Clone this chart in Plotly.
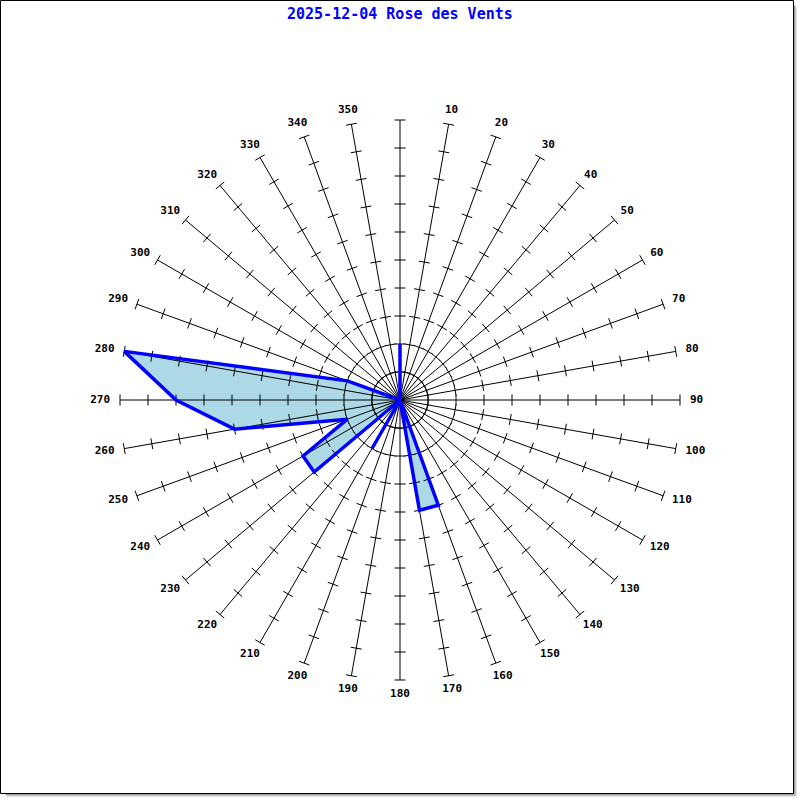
import math
import plotly.graph_objects as go

# ---------------- data ----------------
directions = [0, 10, 20, 30, 40, 50, 60, 70, 80, 90, 100, 110, 120, 130, 140, 150, 160, 170,
              180, 190, 200, 210, 220, 230, 240, 250, 260, 270, 280, 290, 300, 310, 320, 330, 340, 350]
values = [2, 0, 0, 0, 0, 0, 0, 0, 0, 0, 0, 0, 0, 0, 0, 0, 4, 4,
          0, 0, 0, 2, 0, 4, 4, 2, 6, 8, 10, 2, 0, 0, 0, 0, 0, 0]
label_dirs = [10, 20, 30, 40, 50, 60, 70, 80, 90, 100, 110, 120, 130, 140, 150, 160, 170,
              180, 190, 200, 210, 220, 230, 240, 250, 260, 270, 280, 290, 300, 310, 320, 330, 340, 350]
label_texts = ["10", "20", "30", "40", "50", "60", "70", "80", "90", "100", "110", "120", "130",
               "140", "150", "160", "170", "180", "190", "200", "210", "220", "230", "240", "250",
               "260", "270", "280", "290", "300", "310", "320", "330", "340", "350"]
scale_ticks = [1, 2, 3, 4, 5, 6, 7, 8, 9, 10]
title = "2025-12-04 Rose des Vents"

# ---------------- style / layout constants ----------------
W = H = 800
R_MAX = 10            # axis max in data units
R_OUT = 11            # polar range incl. room for labels
PXU = 28              # pixels per unit
R_PX = R_OUT * PXU
CX, CY = 400, 400
TICK_HALF = 5.5 / PXU
LABEL_R_PX = 290
CHAR_W = 6.62
CHAR_H = 8

fig = go.Figure()

# filled polygon
r_closed = values + [values[0]]
t_closed = directions + [directions[0]]
fig.add_trace(go.Scatterpolar(r=r_closed, theta=t_closed, mode="lines", fill="toself",
                              fillcolor="#ADD8E6", line=dict(color="rgba(0,0,0,0)", width=0),
                              hoverinfo="skip", cliponaxis=False))

# spokes
sr, st = [], []
for d in directions:
    sr += [0, R_MAX, None]
    st += [d, d, None]
fig.add_trace(go.Scatterpolar(r=sr, theta=st, mode="lines", line=dict(color="black", width=1),
                              hoverinfo="skip", cliponaxis=False))

# ticks on every spoke (perpendicular marks)
tr, tt = [], []
for d in directions:
    for t in scale_ticks:
        re = math.hypot(t, TICK_HALF)
        da = math.degrees(math.atan2(TICK_HALF, t))
        tr += [re, re, None]
        tt += [d - da, d + da, None]
fig.add_trace(go.Scatterpolar(r=tr, theta=tt, mode="lines", line=dict(color="black", width=1),
                              hoverinfo="skip", cliponaxis=False))

# outline
fig.add_trace(go.Scatterpolar(r=r_closed, theta=t_closed, mode="lines",
                              line=dict(color="#0000FF", width=3.5),
                              hoverinfo="skip", cliponaxis=False))

# direction labels
lr, lt = [], []
for d, txt in zip(label_dirs, label_texts):
    a = math.radians(d)
    sx, sy = math.sin(a), -math.cos(a)
    w = len(txt) * CHAR_W
    px = CX + LABEL_R_PX * sx + sx * w / 2
    py = CY + LABEL_R_PX * sy + sy * CHAR_H / 2
    dx, dy = px - CX, py - CY
    lr.append(math.hypot(dx, dy) / PXU)
    lt.append(math.degrees(math.atan2(dx, -dy)))
fig.add_trace(go.Scatterpolar(r=lr, theta=lt, mode="text", text=label_texts,
                              textposition="middle center",
                              textfont=dict(family="DejaVu Sans Mono", size=11, color="black",
                                            weight="bold"),
                              hoverinfo="skip", cliponaxis=False))

dom = [(CX - R_PX) / W, (CX + R_PX) / W]
fig.update_layout(
    width=W, height=H, autosize=False,
    margin=dict(l=0, r=0, t=0, b=0),
    paper_bgcolor="white", plot_bgcolor="white",
    showlegend=False,
    polar=dict(
        domain=dict(x=dom, y=dom),
        bgcolor="rgba(0,0,0,0)",
        radialaxis=dict(visible=False, range=[0, R_OUT]),
        angularaxis=dict(rotation=90, direction="clockwise", showgrid=False, showline=False,
                         showticklabels=False, ticks=""),
    ),
)

def px2x(v):
    return v / W

def px2y(v):
    return 1 - v / H

shapes = []
# drop shadow (gradient)
for off, col in [(7, "#d0d0d0"), (6, "#b0b0b0"), (5, "#909090")]:
    shapes.append(dict(type="rect", xref="paper", yref="paper", layer="below",
                       x0=px2x(off), x1=px2x(793 + off - 5 + 1.5),
                       y0=px2y(off), y1=px2y(793 + off - 5 + 1.5),
                       fillcolor=col, line=dict(width=0)))
shapes.append(dict(type="rect", xref="paper", yref="paper", layer="below",
                   x0=px2x(0.5), x1=px2x(793.5), y0=px2y(0.5), y1=px2y(793.5),
                   fillcolor="white", line=dict(color="black", width=1)))
fig.update_layout(shapes=shapes)

fig.add_annotation(text=title, xref="paper", yref="paper", x=0.5, y=px2y(14),
                   xanchor="center", yanchor="middle", showarrow=False,
                   font=dict(family="DejaVu Sans Mono", size=15, color="#0000FF", weight="bold"))

fig.write_html("out.html", config={"displayModeBar": False},
               post_script="document.body.style.margin='0';document.body.style.overflow='hidden';")
